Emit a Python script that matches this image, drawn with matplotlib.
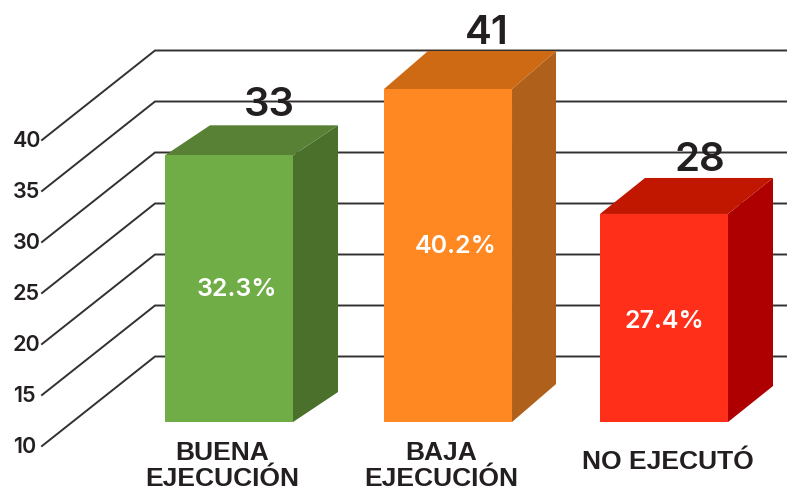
import matplotlib
matplotlib.use('Agg')
import matplotlib.pyplot as plt
from matplotlib.patches import Polygon

categories = ['BUENA\nEJECUCIÓN', 'BAJA\nEJECUCIÓN', 'NO EJECUTÓ']
counts = [33, 41, 28]
percents = ['32.3%', '40.2%', '27.4%']
# bar tops as they read on the front axis, the bars do not follow the scale exactly
bar_tops = [38.5, 45.0, 32.75]
bar_base = 12.35
ticks = [10, 15, 20, 25, 30, 35, 40]
x_pos = [0, 1.007, 2]

front = ['#70AD47', '#FF8822', '#FF2F19']
top = ['#588135', '#CE6A14', '#C11600']
side = ['#4A702B', '#AF601A', '#AE0000']

PX_X = 217.5       # pixels per category
PX_Y = 10.2        # pixels per tick unit
W = 787
H = 493
X0 = 229           # pixel of first category
Y10 = 446          # pixel of tick 10 on the front

bar_w = 128 / PX_X
depth_x = [45 / PX_X, 44 / PX_X, 45 / PX_X]
depth_y = [30 / PX_Y, 38 / PX_Y, 36 / PX_Y]
pct_dx = [0.037, 0.037, 0.0]
pct_dy = [-0.05, 0.9, -0.3]
count_dx = [0.185, 0.18, 0.167]
count_dy = [1.95, 1.7, 1.7]
cat_y = [8.0, 8.0, 8.4]
cat_dx = [-0.03, -0.03, 0.02]
grid_dx = 113 / PX_X
grid_dy = 89.5 / PX_Y
x_left = (42 - X0) / PX_X
x_label = (13 - X0) / PX_X

fig = plt.figure(figsize=(W / 100, H / 100), dpi=100)
ax = fig.add_axes([0, 0, 1, 1])
ax.set_xlim(-X0 / PX_X, (W - X0) / PX_X)
ax.set_ylim(10 - (H - Y10) / PX_Y, 10 + Y10 / PX_Y)
ax.axis('off')

dark = '#231F20'
num_font = ['Inter', 'DejaVu Sans']

for t in ticks:
    ax.plot([x_left, x_left + grid_dx, ax.get_xlim()[1]],
            [t, t + grid_dy, t + grid_dy],
            color='#333031', lw=1.4, solid_joinstyle='miter', zorder=1)
    ax.text(x_label, t - 0.1, str(t), ha='left', va='center', fontsize=15.5,
            family=num_font, fontweight='semibold', color=dark, zorder=2)

for i in range(len(categories)):
    l = x_pos[i] - bar_w / 2
    r = x_pos[i] + bar_w / 2
    b = bar_base
    t = bar_tops[i]
    dx = depth_x[i]
    dy = depth_y[i]
    ax.add_patch(Polygon([(r, b), (r + dx, b + dy), (r + dx, t + dy), (r, t)],
                         fc=side[i], ec='none', zorder=3))
    ax.add_patch(Polygon([(l, t), (r, t), (r + dx, t + dy), (l + dx, t + dy)],
                         fc=top[i], ec='none', zorder=3))
    ax.add_patch(Polygon([(l, b), (r, b), (r, t), (l, t)],
                         fc=front[i], ec='none', zorder=4))
    ax.text(x_pos[i] + count_dx[i], t + dy + count_dy[i], str(counts[i]), ha='center', va='center',
            fontsize=29, family=num_font, fontweight='semibold', color=dark, zorder=5)
    ax.text(x_pos[i] + pct_dx[i], (t + b) / 2 + pct_dy[i], percents[i], ha='center', va='center',
            fontsize=18, family=num_font, fontweight='semibold', color='white', zorder=5)
    ax.text(x_pos[i] + cat_dx[i], cat_y[i], categories[i], ha='center',
            va='center', fontsize=19, family='Liberation Sans', fontweight='bold',
            color=dark, linespacing=1.1, zorder=5)

fig.savefig('out.png', dpi=100)
